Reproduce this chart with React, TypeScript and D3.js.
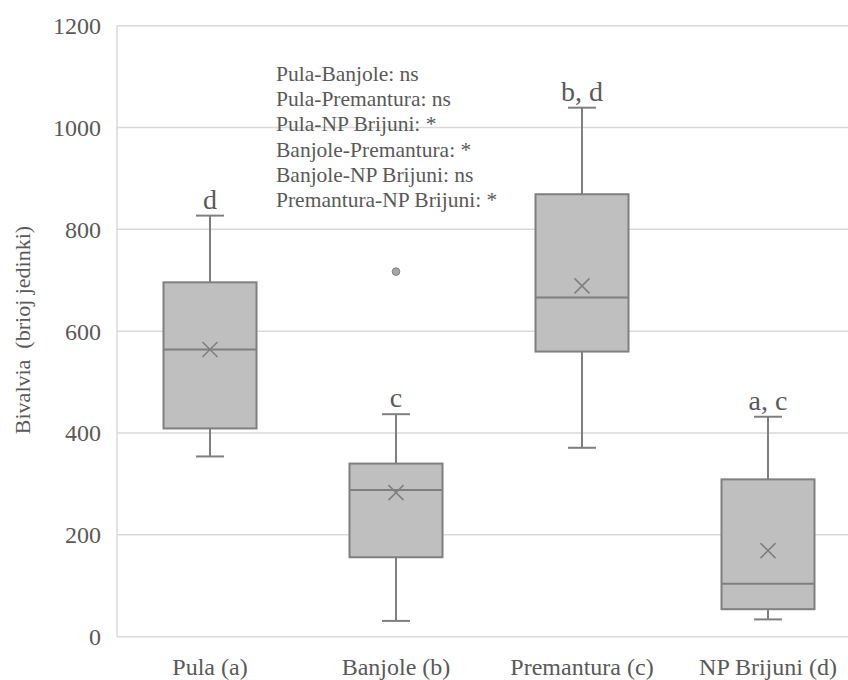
import React from "react";
import * as d3 from "d3";

const categories = ["Pula (a)", "Banjole (b)", "Premantura (c)", "NP Brijuni (d)"];
const whiskerLow = [354, 31, 371, 34];
const quartile1 = [409, 156, 560, 54];
const medians = [564, 288, 666, 104];
const quartile3 = [696, 340, 869, 309];
const whiskerHigh = [827, 437, 1039, 432];
const means = [564, 283, 689, 169];
const outlierCategories = ["Banjole (b)"];
const outlierValues = [717];
const groupLetters = ["d", "c", "b, d", "a, c"];
const yTicks = [0, 200, 400, 600, 800, 1000, 1200];
const comparisons = [
  "Pula-Banjole: ns",
  "Pula-Premantura: ns",
  "Pula-NP Brijuni: *",
  "Banjole-Premantura: *",
  "Banjole-NP Brijuni: ns",
  "Premantura-NP Brijuni: *",
];
const yTitle = "Bivalvia  (brioj jedinki)";

const W = 848;
const H = 680;
const FONT = "Liberation Serif, DejaVu Serif, serif";
const TEXT = "#595959";
const GRID = "#d9d9d9";
const BOX_FILL = "#bfbfbf";
const BOX_STROKE = "#7f7f7f";

export default function App() {
  const y = d3.scaleLinear().domain([0, 1200]).range([636.7, 25.7]);
  const x = d3.scalePoint<string>().domain(categories).range([117, 861]).padding(0.5);
  const boxW = 93;
  const capW = 28;
  const mk = 7.5;
  const ts = (size: number) => ({ fontFamily: FONT, fontSize: size + "px", fill: TEXT });

  return (
    <div style={{ position: "absolute", left: 0, top: 0 }}>
      <svg width={W} height={H} style={{ display: "block", background: "#fff", fontFamily: FONT }}>
        {yTicks.map((t) => (
          <line key={"g" + t} x1={117} x2={861} y1={y(t)} y2={y(t)} stroke={GRID} strokeWidth={1.5} />
        ))}
        <line x1={117} x2={117} y1={y(1200)} y2={y(0)} stroke={GRID} strokeWidth={1.5} />
        {yTicks.map((t) => (
          <text key={"t" + t} x={101} y={y(t)} dy="0.35em" textAnchor="end" style={ts(24)}>
            {t}
          </text>
        ))}
        <text
          transform={`translate(30, 330) rotate(-90)`}
          textAnchor="middle"
          style={{ ...ts(22), whiteSpace: "pre" }}
        >
          {yTitle}
        </text>
        {categories.map((c) => (
          <text key={"x" + c} x={x(c)} y={675} textAnchor="middle" style={ts(24)}>
            {c}
          </text>
        ))}
        {categories.map((c, i) => {
          const cx = x(c) as number;
          return (
            <g key={"b" + c}>
              <line x1={cx} x2={cx} y1={y(whiskerHigh[i])} y2={y(quartile3[i])} stroke={BOX_STROKE} strokeWidth={2} />
              <line x1={cx} x2={cx} y1={y(quartile1[i])} y2={y(whiskerLow[i])} stroke={BOX_STROKE} strokeWidth={2} />
              <line x1={cx - capW / 2} x2={cx + capW / 2} y1={y(whiskerHigh[i])} y2={y(whiskerHigh[i])} stroke={BOX_STROKE} strokeWidth={2} />
              <line x1={cx - capW / 2} x2={cx + capW / 2} y1={y(whiskerLow[i])} y2={y(whiskerLow[i])} stroke={BOX_STROKE} strokeWidth={2} />
              <rect
                x={cx - boxW / 2}
                y={y(quartile3[i])}
                width={boxW}
                height={y(quartile1[i]) - y(quartile3[i])}
                fill={BOX_FILL}
                stroke={BOX_STROKE}
                strokeWidth={2}
              />
              <line x1={cx - boxW / 2} x2={cx + boxW / 2} y1={y(medians[i])} y2={y(medians[i])} stroke={BOX_STROKE} strokeWidth={2} />
              <path
                d={`M${cx - mk},${y(means[i]) - mk}L${cx + mk},${y(means[i]) + mk}M${cx - mk},${y(means[i]) + mk}L${cx + mk},${y(means[i]) - mk}`}
                stroke={BOX_STROKE}
                strokeWidth={1.5}
                fill="none"
              />
              <text x={cx} y={y(whiskerHigh[i]) - 7} textAnchor="middle" style={ts(28)}>
                {groupLetters[i]}
              </text>
            </g>
          );
        })}
        {outlierValues.map((v, i) => (
          <circle key={"o" + i} cx={x(outlierCategories[i]) as number} cy={y(v)} r={3.8} fill="#a6a6a6" stroke={BOX_STROKE} strokeWidth={1} />
        ))}
        {comparisons.map((s, i) => (
          <text key={"c" + i} x={276} y={80.7 + i * 25.3} style={ts(21.5)}>
            {s}
          </text>
        ))}
      </svg>
    </div>
  );
}
